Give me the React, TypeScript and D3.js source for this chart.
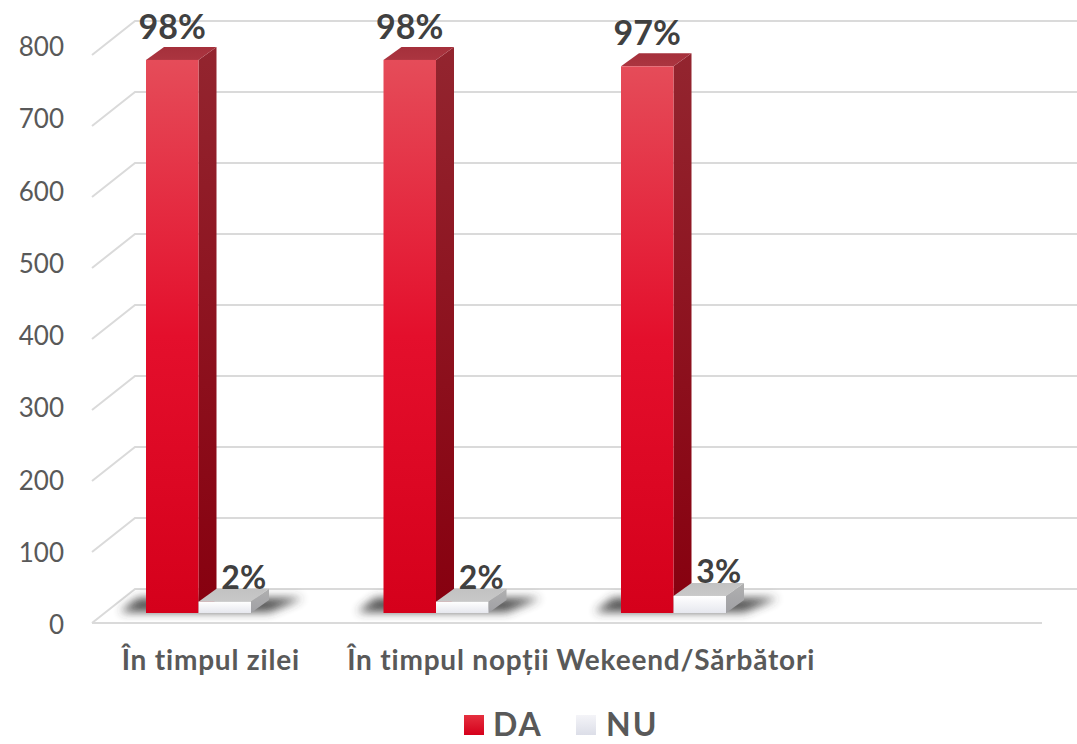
import * as d3 from "d3";

const categories = ["În timpul zilei", "În timpul nopții", "Wekeend/Sărbători", ""];
const series = ["DA", "NU"];
const daValues = [779, 779, 770];
const nuValues = [16, 16, 24];
const daLabels = ["98%", "98%", "97%"];
const nuLabels = ["2%", "2%", "3%"];
const yTicks = [0, 100, 200, 300, 400, 500, 600, 700, 800];

const W = 1077;
const H = 744;
const FONT = "Lato, 'Open Sans', sans-serif";

// floor / wall geometry
const floorLeft = 92;
const floorRight = 1042;
const floorFront = 623;
const depthX = 43;
const depthY = 34;
// bars sit a bit back on the floor
const barBase = 613;
const barDX = 18;
const barDY = 13;

export default function App() {
  const x0 = d3.scaleBand<string>().domain(categories).range([floorLeft, floorRight]);
  const x1 = d3.scaleBand<string>().domain(series).range([54, 159]);
  const yBar = d3.scaleLinear().domain([0, 800]).range([barBase, 45]);
  const yGrid = d3.scaleLinear().domain([0, 800]).range([floorFront, 55]);
  // tick labels sit a little off the front edge of the wall
  const yLabel = d3.scaleLinear().domain([0, 800]).range([634, 56]);

  const bar = (x: number, w: number, v: number, kind: string, key: string) => {
    const yt = yBar(v);
    const xr = x + w;
    const side = [[xr, yt], [xr + barDX, yt - barDY], [xr + barDX, barBase - barDY], [xr, barBase]];
    const top = [[x, yt], [x + barDX, yt - barDY], [xr + barDX, yt - barDY], [xr, yt]];
    return (
      <g key={key}>
        <polygon points={side.join(" ")} fill={`url(#${kind}-side)`} />
        <polygon points={top.join(" ")} fill={`url(#${kind}-top)`} />
        <rect x={x} y={yt} width={w} height={barBase - yt} fill={`url(#${kind}-front)`} />
      </g>
    );
  };

  const bw = x1.bandwidth();

  return (
    <svg width={W} height={H} style={{ position: "absolute", left: 0, top: 0, background: "#fff" }}>
      <defs>
        <linearGradient id="da-front" x1="0" y1="0" x2="0" y2="1">
          <stop offset="0" stopColor="#e54c59" />
          <stop offset="0.5" stopColor="#e40f2c" />
          <stop offset="1" stopColor="#d5001b" />
        </linearGradient>
        <linearGradient id="da-side" x1="0" y1="0" x2="0" y2="1">
          <stop offset="0" stopColor="#93252f" />
          <stop offset="1" stopColor="#87000f" />
        </linearGradient>
        <linearGradient id="da-top" x1="0" y1="0" x2="0" y2="1">
          <stop offset="0" stopColor="#a5303b" />
          <stop offset="1" stopColor="#ab3540" />
        </linearGradient>
        <linearGradient id="nu-front" x1="0" y1="0" x2="0" y2="1">
          <stop offset="0" stopColor="#ffffff" />
          <stop offset="1" stopColor="#e6e7ee" />
        </linearGradient>
        <linearGradient id="nu-side" x1="0" y1="0" x2="0" y2="1">
          <stop offset="0" stopColor="#b0b0b0" />
          <stop offset="1" stopColor="#a0a0a4" />
        </linearGradient>
        <linearGradient id="nu-top" x1="0" y1="0" x2="0" y2="1">
          <stop offset="0" stopColor="#c2c2c2" />
          <stop offset="1" stopColor="#c8c8c8" />
        </linearGradient>
        <linearGradient id="leg-da" x1="0" y1="0" x2="0" y2="1">
          <stop offset="0" stopColor="#e5303f" />
          <stop offset="1" stopColor="#d5001b" />
        </linearGradient>
        <linearGradient id="leg-nu" x1="0" y1="0" x2="0" y2="1">
          <stop offset="0" stopColor="#f4f4f8" />
          <stop offset="1" stopColor="#dcdee8" />
        </linearGradient>
        <filter id="shadow" x="-50%" y="-200%" width="200%" height="500%">
          <feGaussianBlur stdDeviation="5" />
        </filter>
      </defs>

      {/* back wall gridlines */}
      {yTicks.map((t) => {
        const yf = yGrid(t);
        return (
          <polyline
            key={t}
            points={`${floorLeft},${yf} ${floorLeft + depthX},${yf - depthY} ${W + 10},${yf - depthY}`}
            fill="none"
            stroke="#dadada"
            strokeWidth={2}
          />
        );
      })}
      {/* floor front edge */}
      <line x1={floorLeft} y1={floorFront} x2={floorRight} y2={floorFront} stroke="#dadada" strokeWidth={2} />

      {/* y axis labels */}
      {yTicks.map((t) => (
        <text
          key={t}
          x={64}
          y={yLabel(t)}
          textAnchor="end"
          fontFamily={FONT}
          fontSize={26}
          fill="#595959"
        >
          {t}
        </text>
      ))}

      {/* bar groups */}
      {daValues.map((v, i) => {
        const gx = x0(categories[i])!;
        const xd = gx + x1("DA")!;
        const xn = gx + x1("NU")!;
        const shadow = [
          [xd - 26, barBase - 1],
          [xd - 8, barBase - 15],
          [xn + bw + barDX + 34, barBase - 15],
          [xn + bw + 18, barBase - 1],
        ];
        return (
          <g key={i}>
            <polygon points={shadow.join(" ")} fill="#333" opacity={0.85} filter="url(#shadow)" />
            {bar(xd, bw, v, "da", "da" + i)}
            {bar(xn, bw, nuValues[i], "nu", "nu" + i)}
            <text
              x={xd + bw / 2}
              y={yBar(v) - 21}
              textAnchor="middle"
              fontFamily={FONT}
              fontWeight={700}
              fontSize={34}
              fill="#404040"
            >
              {daLabels[i]}
            </text>
            <text
              x={xn + bw / 2 + 19}
              y={yBar(nuValues[i]) - 13}
              textAnchor="middle"
              fontFamily={FONT}
              fontWeight={700}
              fontSize={32}
              fill="#404040"
            >
              {nuLabels[i]}
            </text>
          </g>
        );
      })}

      {/* category labels */}
      {categories.map((c) => (
        <text
          key={c}
          x={x0(c)! + x0.bandwidth() / 2}
          y={670}
          textAnchor="middle"
          fontFamily={FONT}
          fontWeight={700}
          fontSize={28}
          letterSpacing={0.8}
          fill="#595959"
        >
          {c}
        </text>
      ))}

      {/* legend */}
      <g>
        <rect x={464} y={715} width={20} height={20} fill="url(#leg-da)" />
        <text x={493} y={736} fontFamily={FONT} fontWeight={700} fontSize={32} letterSpacing={2} fill="#595959">
          DA
        </text>
        <rect x={576} y={715} width={20} height={20} fill="url(#leg-nu)" />
        <text x={606} y={736} fontFamily={FONT} fontWeight={700} fontSize={32} letterSpacing={2} fill="#595959">
          NU
        </text>
      </g>
    </svg>
  );
}
